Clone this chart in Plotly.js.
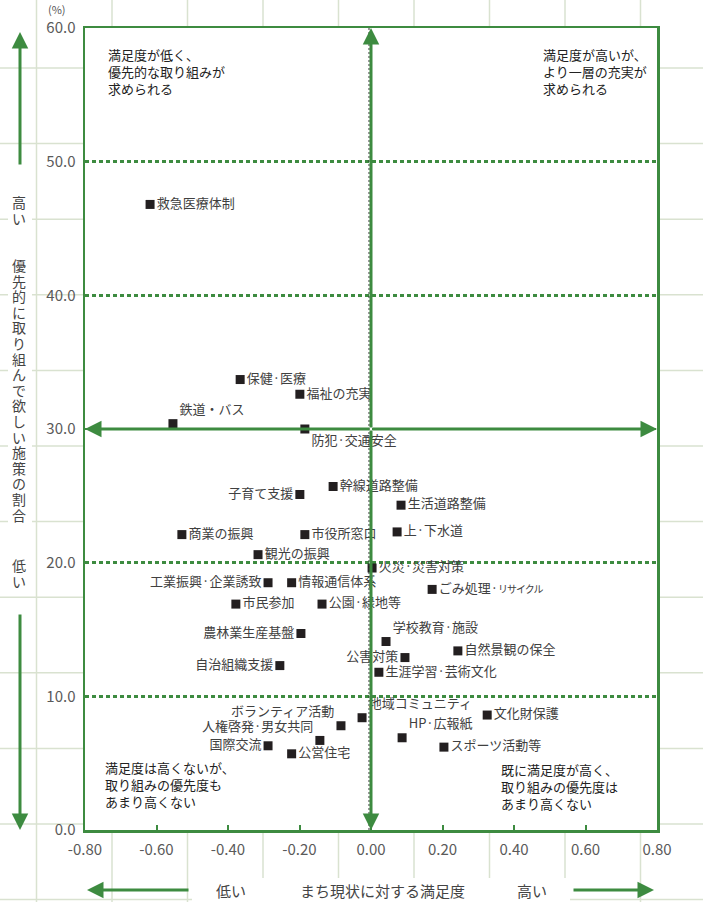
<!DOCTYPE html>
<html>
<head>
<meta charset="utf-8">
<script src="https://cdn.plot.ly/plotly-3.0.1.min.js"></script>
<style>html,body{margin:0;padding:0;background:#fff;}</style>
</head>
<body>
<div id="chart" style="width:703px;height:902px;"></div>
<script>
// ---- data ----
const policyNames = [
  "救急医療体制","保健·医療","福祉の充実","鉄道・バス","防犯·交通安全",
  "幹線道路整備","子育て支援","生活道路整備","商業の振興","市役所窓口",
  "上·下水道","観光の振興","火災·災害対策","工業振興·企業誘致","情報通信体系",
  "ごみ処理·リサイクル","市民参加","公園·緑地等","農林業生産基盤","学校教育·施設",
  "自然景観の保全","公害対策","自治組織支援","生涯学習·芸術文化","文化財保護",
  "地域コミュニティ","ボランティア活動","人権啓発·男女共同","HP·広報紙","国際交流",
  "スポーツ活動等","公営住宅"
];
const satisfaction = [
  -0.618,-0.366,-0.199,-0.554,-0.185,
  -0.106,-0.199,0.084,-0.529,-0.185,
  0.073,-0.316,0.003,-0.288,-0.222,
  0.171,-0.378,-0.137,-0.196,0.042,
  0.243,0.095,-0.255,0.022,0.325,
  -0.025,-0.084,-0.143,0.087,-0.288,
  0.204,-0.222
];
const priority = [
  46.8,33.7,32.6,30.4,30.0,
  25.7,25.1,24.3,22.1,22.1,
  22.3,20.6,19.6,18.5,18.5,
  18.0,16.9,16.9,14.7,14.1,
  13.4,12.9,12.3,11.8,8.6,
  8.4,7.8,6.7,6.9,6.3,
  6.2,5.7
];
const xTickVals = [-0.8,-0.6,-0.4,-0.2,0,0.2,0.4,0.6,0.8];
const xTickText = ["-0.80","-0.60","-0.40","-0.20","0.00","0.20","0.40","0.60","0.80"];
const yTickVals = [0,10,20,30,40,50,60];
const yTickText = ["0.0","10.0","20.0","30.0","40.0","50.0","60.0"];
const xRange = [-0.8, 0.8];
const yRange = [0, 60];
const crossX = 0, crossY = 30;

const quadrantTexts = [
  "満足度が低く、<br>優先的な取り組みが<br>求められる",
  "満足度が高いが、<br>より一層の充実が<br>求められる",
  "満足度は高くないが、<br>取り組みの優先度も<br>あまり高くない",
  "既に満足度が高く、<br>取り組みの優先度は<br>あまり高くない"
];
const yTitleTop = "高い", yTitleMid = "優先的に取り組んで欲しい施策の割合", yTitleBottom = "低い";
const xTitleLow = "低い", xTitleMid = "まち現状に対する満足度", xTitleHigh = "高い";
const yUnit = "(%)";

// ---- styling ----
const W = 703, H = 902;
const green = '#3d8b40';
const bgGrid = '#d9e2d0';
const FONT = '"Noto Sans CJK JP", "Noto Sans", sans-serif';
const px = v => v / W;
const py = v => 1 - v / H;

const labelPlacement = {
  "子育て支援":"middle left","工業振興·企業誘致":"middle left","農林業生産基盤":"middle left",
  "公害対策":"middle left","自治組織支援":"middle left","国際交流":"middle left",
  "鉄道・バス":"top right","防犯·交通安全":"bottom right","学校教育·施設":"top right",
  "地域コミュニティ":"top right","HP·広報紙":"top right",
  "ボランティア活動":"top left","人権啓発·男女共同":"top left"
};
const displayText = policyNames.map(n =>
  n === "ごみ処理·リサイクル" ? "ごみ処理·<span style='font-size:10px;letter-spacing:-1px'>リサイクル</span>" : n);
const textPos = policyNames.map(n => labelPlacement[n] || "middle right");

const trace = {
  type: 'scatter', mode: 'markers+text',
  x: satisfaction, y: priority,
  text: displayText, textposition: textPos,
  textfont: {family: FONT, size: 13, color: '#404040'},
  marker: {symbol: 'square', size: 9, color: '#231f20'},
  hoverinfo: 'skip', cliponaxis: false
};

// background graph-paper grid
const shapes = [];
for (let gx = 36.5; gx < W; gx += 75.5) {
  shapes.push({type:'line', xref:'paper', yref:'paper', x0:px(gx), x1:px(gx), y0:0, y1:1,
    line:{color:bgGrid, width:1.5}, layer:'below'});
}
for (let gy = 68; gy < H; gy += 75.6) {
  shapes.push({type:'line', xref:'paper', yref:'paper', x0:0, x1:1, y0:py(gy), y1:py(gy),
    line:{color:bgGrid, width:1.5}, layer:'below'});
}
// white plot area and white label backgrounds
shapes.push({type:'rect', xref:'paper', yref:'paper', x0:px(85), x1:px(657), y0:py(830), y1:py(28),
  fillcolor:'#fff', line:{width:0}, layer:'below'});
shapes.push({type:'rect', xref:'paper', yref:'paper', x0:px(192), x1:px(570), y0:0, y1:py(878),
  fillcolor:'#fff', line:{width:0}, layer:'below'});
shapes.push({type:'rect', xref:'paper', yref:'paper', x0:px(8), x1:px(32), y0:py(596), y1:py(184),
  fillcolor:'#fff', line:{width:0}, layer:'below'});
// thin dark dashed line beside the vertical centre line
shapes.push({type:'line', xref:'x', yref:'y', xsizemode:'pixel', xanchor:crossX, x0:-2, x1:-2,
  y0:yRange[0], y1:yRange[1], line:{color:'#333', width:1, dash:'2px,2px'}, layer:'above'});

const annotations = [];
// centre cross arrows
const arrowStyle = {showarrow:true, arrowhead:2, arrowsize:1.1, arrowwidth:3, arrowcolor:green,
  standoff:0, startstandoff:0, text:'', axref:'x', ayref:'y', xref:'x', yref:'y'};
annotations.push(Object.assign({}, arrowStyle, {x:crossX, y:yRange[1], ax:crossX, ay:crossY}));
annotations.push(Object.assign({}, arrowStyle, {x:crossX, y:yRange[0], ax:crossX, ay:crossY}));
annotations.push(Object.assign({}, arrowStyle, {x:xRange[0], y:crossY, ax:crossX, ay:crossY}));
annotations.push(Object.assign({}, arrowStyle, {x:xRange[1], y:crossY, ax:crossX, ay:crossY}));

// outer axis arrows
const outerArrow = {showarrow:true, arrowhead:2, arrowsize:1.1, arrowwidth:3, arrowcolor:green,
  standoff:0, text:'', xref:'paper', yref:'paper'};
annotations.push(Object.assign({}, outerArrow, {x:px(20), y:py(32), ax:0, ay:134}));
annotations.push(Object.assign({}, outerArrow, {x:px(20), y:py(830), ax:0, ay:-217}));
annotations.push(Object.assign({}, outerArrow, {x:px(87), y:py(890), ax:103, ay:0}));
annotations.push(Object.assign({}, outerArrow, {x:px(654), y:py(890), ax:-82, ay:0}));

// quadrant texts
const qPos = [[106,43],[541,43],[103,756],[499,758]];
quadrantTexts.forEach((t,i) => annotations.push({
  text:t, showarrow:false, xref:'paper', yref:'paper', x:px(qPos[i][0]), y:py(qPos[i][1]),
  xanchor:'left', yanchor:'top', align:'left',
  font:{family:FONT, size:13, color:'#222'}
}));

// vertical y title, one character per row
const pitch = 15.6;
function stackChars(str, startY) {
  [...str].forEach((ch, k) => annotations.push({
    text:ch, showarrow:false, xref:'paper', yref:'paper', x:px(19), y:py(startY + k*pitch),
    xanchor:'center', yanchor:'middle', font:{family:FONT, size:14, color:'#444'}
  }));
}
stackChars(yTitleTop, 202);
stackChars(yTitleMid, 265);
stackChars(yTitleBottom, 565);

// x title parts
[[xTitleLow,231],[xTitleMid,382],[xTitleHigh,532]].forEach(([t,xc]) => annotations.push({
  text:t, showarrow:false, xref:'paper', yref:'paper', x:px(xc), y:py(890),
  xanchor:'center', yanchor:'middle', font:{family:FONT, size:15, color:'#444'}
}));
annotations.push({text:yUnit, showarrow:false, xref:'paper', yref:'paper', x:px(57), y:py(9),
  xanchor:'center', yanchor:'middle', font:{family:FONT, size:11, color:'#555'}});

const layout = {
  width: W, height: H,
  margin: {l:0, r:0, t:0, b:0},
  paper_bgcolor: '#fff', plot_bgcolor: 'rgba(0,0,0,0)',
  showlegend: false,
  xaxis: {
    domain: [px(85), px(657)], range: xRange, tickvals: xTickVals, ticktext: xTickText,
    showgrid: false, zeroline: false,
    showline: true, mirror: true, linecolor: green, linewidth: 2.5,
    ticks: 'inside', ticklen: 5, tickwidth: 2, tickcolor: green,
    ticklabelstandoff: 4,
    tickfont: {family: FONT, size: 15, color: '#5a5a5a'}, fixedrange: true
  },
  yaxis: {
    domain: [py(830), py(28)], range: yRange, tickvals: yTickVals, ticktext: yTickText,
    showgrid: true, gridcolor: green, gridwidth: 2.5, griddash: '4px,3px',
    zeroline: false, showline: true, mirror: true, linecolor: green, linewidth: 2.5,
    ticks: '', ticklabelstandoff: 4,
    tickfont: {family: FONT, size: 15, color: '#5a5a5a'}, fixedrange: true
  },
  shapes: shapes,
  annotations: annotations
};

Plotly.newPlot('chart', [trace], layout, {staticPlot: true, displayModeBar: false});
</script>
</body>
</html>
